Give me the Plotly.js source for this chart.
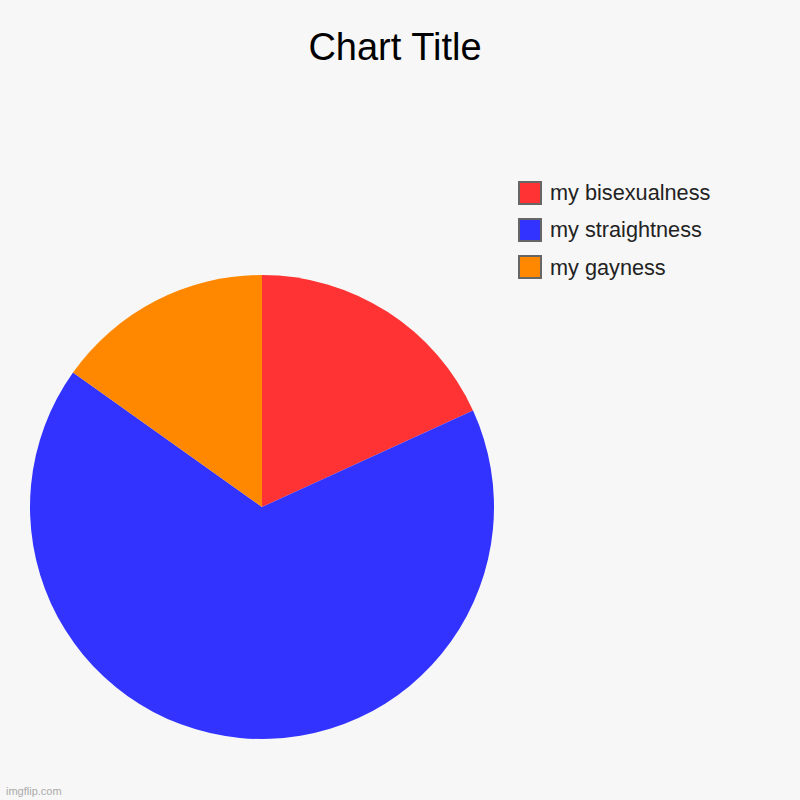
<!DOCTYPE html>
<html>
<head>
<meta charset="utf-8">
<script src="https://cdn.plot.ly/plotly-3.0.1.min.js"></script>
<style>html,body{margin:0;padding:0;background:#f7f7f7;}#chart{width:800px;height:800px;}</style>
</head>
<body>
<div id="chart"></div>
<script>
var labels = ["my bisexualness", "my straightness", "my gayness"];
var values = [6, 22, 5];
var colors = ["#ff3333", "#3333ff", "#ff8800"];

var shapes = [];
var annotations = [];
var legX0 = 518, legY0 = 181, step = 37, box = 23;
labels.forEach(function (lab, i) {
  var y0 = legY0 + i * step;
  shapes.push({
    type: "rect", xref: "paper", yref: "paper",
    x0: (legX0 + 1) / 800, x1: (legX0 + box) / 800,
    y0: 1 - (y0 + 1) / 800, y1: 1 - (y0 + box) / 800,
    fillcolor: colors[i], line: {color: "#666666", width: 2}
  });
  annotations.push({
    xref: "paper", yref: "paper", x: 548 / 800, y: 1 - (y0 + box / 2 + 0.5) / 800,
    xanchor: "left", yanchor: "middle", showarrow: false, text: lab,
    font: {family: "Liberation Sans, Arial, sans-serif", size: 21.7, color: "#222222"}
  });
});
annotations.push({
  xref: "paper", yref: "paper", x: 4 / 800, y: 1 - 791 / 800,
  xanchor: "left", yanchor: "middle", showarrow: false, text: "imgflip.com",
  font: {family: "Liberation Sans, Arial, sans-serif", size: 11, color: "#aaaaaa"}
});

var data = [{
  type: "pie",
  labels: labels,
  values: values,
  marker: {colors: colors, line: {width: 0}},
  sort: false,
  direction: "clockwise",
  rotation: 0,
  textinfo: "none",
  hoverinfo: "label+value",
  showlegend: false,
  domain: {x: [30 / 800, 494 / 800], y: [61 / 800, 525 / 800]}
}];

var layout = {
  width: 800, height: 800,
  margin: {l: 0, r: 0, t: 0, b: 0},
  paper_bgcolor: "#f7f7f7",
  plot_bgcolor: "#f7f7f7",
  showlegend: false,
  title: {
    text: "Chart Title",
    x: 395 / 800, xanchor: "center", xref: "paper",
    y: 1 - 47 / 800, yanchor: "middle", yref: "paper",
    font: {family: "Liberation Sans, Arial, sans-serif", size: 38, color: "#000000"}
  },
  shapes: shapes,
  annotations: annotations
};

Plotly.newPlot("chart", data, layout, {displayModeBar: false, staticPlot: true});
</script>
</body>
</html>
